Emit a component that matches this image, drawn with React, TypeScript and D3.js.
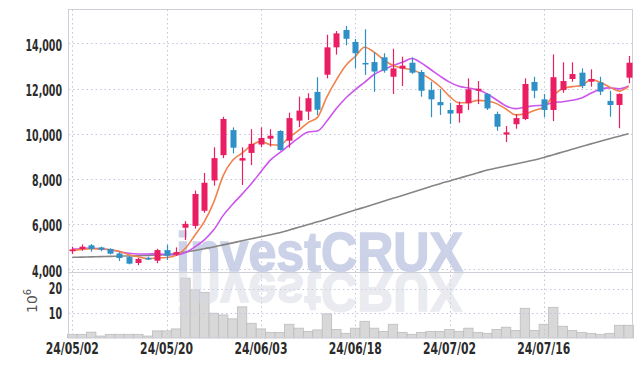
import React from 'react';
import * as d3 from 'd3';

const dates = [
  '24/05/02', '24/05/03', '24/05/07', '24/05/08', '24/05/09', '24/05/10', '24/05/13', '24/05/14', '24/05/16', '24/05/17',
  '24/05/20', '24/05/21', '24/05/22', '24/05/23', '24/05/24', '24/05/27', '24/05/28', '24/05/29', '24/05/30', '24/05/31',
  '24/06/03', '24/06/04', '24/06/05', '24/06/07', '24/06/10', '24/06/11', '24/06/12', '24/06/13', '24/06/14', '24/06/17',
  '24/06/18', '24/06/19', '24/06/20', '24/06/21', '24/06/24', '24/06/25', '24/06/26', '24/06/27', '24/06/28', '24/07/01',
  '24/07/02', '24/07/03', '24/07/04', '24/07/05', '24/07/08', '24/07/09', '24/07/10', '24/07/11', '24/07/12', '24/07/15',
  '24/07/16', '24/07/17', '24/07/18', '24/07/19', '24/07/22', '24/07/23', '24/07/24', '24/07/25', '24/07/26', '24/07/29',
];

const opens = [
  4800, 4900, 5060, 4970, 4900, 4700, 4540, 4280, 4500, 4380,
  4850, 4650, 5840, 5920, 6590, 7930, 9050, 10160, 8810, 9150,
  9520, 9780, 10120, 9690, 10580, 10980, 11850, 12610, 13820, 14590,
  14060, 13130, 13170, 13380, 12520, 12880, 13140, 12730, 11930, 11400,
  11050, 10900, 11345, 11900, 11760, 10870, 9960, 10420, 10650, 12290,
  11520, 11050, 11930, 12420, 12700, 12300, 12270, 11450, 11270, 12480,
];
const highs = [
  5000, 5100, 5120, 5000, 4930, 4760, 4590, 4510, 4560, 4910,
  5080, 4970, 6130, 7480, 8260, 9400, 10750, 10280, 9400, 10200,
  10280, 10200, 10150, 10930, 11640, 11790, 12500, 14380, 14545, 14770,
  14190, 14620, 13600, 13560, 13760, 13410, 13380, 12820, 12300, 11970,
  11370, 11420, 12450, 12330, 11800, 10975, 10340, 10870, 12450, 12520,
  11760, 13510, 13160, 13160, 12890, 12850, 12520, 11900, 11780, 13440,
];
const lows = [
  4680, 4820, 4780, 4800, 4660, 4370, 4220, 4180, 4410, 4270,
  4410, 4590, 5300, 5800, 6500, 7700, 8920, 9130, 7730, 8610,
  9400, 9430, 9250, 9380, 10290, 10610, 10830, 12450, 13500, 13910,
  12900, 12600, 11850, 12700, 11760, 12110, 12650, 11640, 10730, 10830,
  10430, 10490, 11050, 11310, 11050, 10130, 9630, 10220, 10600, 11570,
  10730, 10560, 11810, 12300, 12010, 12080, 11710, 10750, 10240, 12230,
];
const closes = [
  4880, 5000, 4900, 4870, 4690, 4500, 4250, 4460, 4450, 4850,
  4600, 4760, 6010, 7330, 7830, 8920, 10650, 9380, 8920, 9550,
  9810, 9910, 9280, 10690, 11020, 11570, 11060, 13820, 14440, 14200,
  13560, 13100, 12750, 12790, 12890, 13010, 12700, 11900, 11520, 11260,
  10890, 11270, 11965, 11990, 11120, 10310, 10060, 10690, 12200, 11900,
  11050, 12500, 12330, 12640, 12110, 12420, 11860, 11270, 11760, 13140,
];

// millions of shares
const volumes = [
  1.5, 1.5, 2.4, 0.8, 1.5, 1.5, 1.5, 1.5, 0.8, 2.9,
  2.9, 3.7, 24.4, 19.6, 18.6, 10.1, 9.4, 7.8, 12.7, 6.0,
  3.7, 2.3, 2.3, 5.6, 4.0, 2.7, 3.3, 9.8, 3.5, 1.9,
  4.0, 6.8, 4.0, 2.7, 5.6, 2.3, 1.5, 2.3, 2.7, 2.7,
  3.5, 2.7, 4.0, 2.3, 1.9, 3.5, 4.4, 3.1, 12.1, 3.1,
  5.6, 12.5, 4.8, 3.1, 2.3, 1.9, 1.5, 1.9, 5.2, 5.2,
];

const ma5 = [
  4830, 4880, 4910, 4900, 4868, 4792, 4642, 4554, 4470, 4502,
  4522, 4624, 4934, 5510, 6106, 6970, 8148, 8822, 9140, 9484,
  9662, 9514, 9494, 9848, 10142, 10494, 10724, 11632, 12382, 13018,
  13416, 13824, 13610, 13280, 13018, 12908, 12828, 12658, 12404, 12078,
  11654, 11368, 11381, 11475, 11447, 11331, 11089, 10834, 10876, 11032,
  11180, 11668, 11996, 12084, 12126, 12400, 12272, 12060, 11884, 12090,
];
const ma10 = [
  4900, 4912, 4940, 4900, 4868, 4780, 4708, 4680, 4677, 4685,
  4657, 4633, 4744, 4990, 5304, 5746, 6386, 6878, 7325, 7795,
  8316, 8831, 9158, 9494, 9813, 10078, 10119, 10563, 11115, 11580,
  11955, 12274, 12621, 12831, 13018, 13162, 13326, 13134, 12842, 12548,
  12281, 12098, 12020, 11940, 11763, 11493, 11229, 11108, 11176, 11240,
  11256, 11379, 11415, 11480, 11579, 11790, 11970, 12028, 11984, 12108,
];
const ma60 = [
  4530, 4540, 4550, 4560, 4570, 4580, 4590, 4600, 4615, 4630,
  4650, 4700, 4760, 4830, 4910, 4990, 5080, 5170, 5260, 5350,
  5440, 5530, 5620, 5740, 5860, 5980, 6100, 6230, 6360, 6490,
  6620, 6750, 6880, 7010, 7140, 7270, 7400, 7530, 7660, 7790,
  7910, 8030, 8150, 8270, 8390, 8480, 8570, 8660, 8750, 8840,
  8950, 9070, 9190, 9310, 9430, 9550, 9670, 9780, 9890, 10000,
];

const priceTicks = [4000, 6000, 8000, 10000, 12000, 14000];
const volumeTicks = [10, 20];
const dateTicks = ['24/05/02', '24/05/20', '24/06/03', '24/06/18', '24/07/02', '24/07/16'];

const W = 642;
const H = 366;
const left = 68.5;
const right = 632.5;
const top = 9.5;
const split = 272.5;
const bottom = 337.5;

const UP = '#e91e63';
const DOWN = '#2e90c6';
const GRID = '#c4c4dc';
const labelFont = '"DejaVu Sans Condensed", "DejaVu Sans", sans-serif';

// squeeze the labels to the narrow look of the original font
const labelWidth = (s: string) =>
  s.split('').reduce((w, ch) => w + (ch === ',' ? 3.5 : ch === '/' ? 6.7 : 6.6), 0);

export default function App() {
  const idx = d3.range(dates.length);
  const x = d3.scaleLinear().domain([-0.5, 59.5]).range([67.6, 633.4]);
  const y = d3.scaleLinear().domain([3867, 15518]).range([272.3, 9]);
  const yv = d3.scaleLinear().domain([0, 26.9]).range([338, 272]);
  const step = x(1) - x(0);

  const line = (vals: number[]) =>
    d3.line<number>()
      .x((_, i) => x(i))
      .y(d => y(d))
      .curve(d3.curveMonotoneX)(vals) || '';

  const wm = { x: 176, y: 272, w: 287 };

  return (
    <svg width={W} height={H} style={{ position: 'absolute', left: 0, top: 0, background: '#fff' }}>
      <defs>
        <clipPath id="plot">
          <rect x={left} y={top} width={right - left} height={bottom - top} />
        </clipPath>
      </defs>

      {/* volume bars */}
      <g>
        {idx.map(i => (
          <rect key={i} x={x(i) - step / 2} y={yv(volumes[i])} width={step}
            height={yv(0) - yv(volumes[i])} fill="#d8d8d8" stroke="#bdbdbd" strokeWidth={0.8} />
        ))}
      </g>

      {/* grid */}
      <g stroke={GRID} strokeWidth={1} strokeDasharray="1.5,3">
        {priceTicks.map(t => (
          <line key={t} x1={left} x2={right} y1={Math.round(y(t)) + 0.5} y2={Math.round(y(t)) + 0.5} />
        ))}
        {volumeTicks.map(t => (
          <line key={t} x1={left} x2={right} y1={Math.round(yv(t)) + 0.5} y2={Math.round(yv(t)) + 0.5} />
        ))}
        {dateTicks.map(d => {
          const px = Math.round(x(dates.indexOf(d))) + 0.5;
          return <line key={d} x1={px} x2={px} y1={top} y2={bottom} />;
        })}
      </g>

      {/* watermark */}
      <g clipPath="url(#plot)" style={{ fontFamily: '"Liberation Sans", Arial, sans-serif', fontWeight: 'bold', fontSize: 56 }}>
        <text x={wm.x} y={wm.y - 1} textLength={wm.w} lengthAdjust="spacingAndGlyphs"
          fill="#c3cbe4" stroke="#c3cbe4" strokeWidth={1.5} opacity={0.85}>
          investCRUX
        </text>
        <text x={wm.x} y={wm.y - 1} textLength={wm.w} lengthAdjust="spacingAndGlyphs"
          fill="#d6d6e4" stroke="#d6d6e4" strokeWidth={1.5} opacity={0.5}
          transform={`translate(0,${2 * wm.y}) scale(1,-1)`}>
          investCRUX
        </text>
      </g>

      {/* frame */}
      <g fill="none" stroke="#cfcfd8" strokeWidth={1}>
        <rect x={left} y={top} width={right - left} height={bottom - top} />
        <line x1={left} x2={right} y1={split} y2={split} />
      </g>

      {/* moving averages */}
      <g fill="none" strokeWidth={1.6} clipPath="url(#plot)">
        <path d={line(ma60)} stroke="#858585" />
        <path d={line(ma10)} stroke="#cc55ee" />
        <path d={line(ma5)} stroke="#f0834c" />
      </g>

      {/* candles */}
      <g>
        {idx.map(i => {
          const up = closes[i] >= opens[i];
          const c = up ? UP : DOWN;
          const cx = Math.round(x(i)) + 0.5;
          const yt = y(Math.max(opens[i], closes[i]));
          const yb = y(Math.min(opens[i], closes[i]));
          return (
            <g key={i}>
              <line x1={cx} x2={cx} y1={y(highs[i])} y2={y(lows[i])} stroke={c} strokeWidth={1.2} />
              <rect x={cx - 3} y={yt} width={6} height={Math.max(1.5, yb - yt)} fill={c} />
            </g>
          );
        })}
      </g>

      {/* axis labels */}
      <g fill="#2b2b2b" style={{ fontFamily: labelFont, fontWeight: 'bold', fontSize: 15 }}>
        {priceTicks.map(t => {
          const s = d3.format(',')(t);
          return (
            <text key={t} x={62} y={y(t) + 2} dy="0.35em" textAnchor="end"
              textLength={labelWidth(s)} lengthAdjust="spacingAndGlyphs">{s}</text>
          );
        })}
        {volumeTicks.map(t => (
          <text key={t} x={62} y={yv(t)} dy="0.35em" textAnchor="end"
            textLength={labelWidth(String(t))} lengthAdjust="spacingAndGlyphs">{t}</text>
        ))}
        {dateTicks.map(d => (
          <text key={d} x={x(dates.indexOf(d))} y={354} textAnchor="middle"
            textLength={labelWidth(d)} lengthAdjust="spacingAndGlyphs">{d}</text>
        ))}
      </g>
      <text transform="translate(37,313) rotate(-90)" fill="#555"
        style={{ fontFamily: '"DejaVu Sans", sans-serif', fontSize: 14 }}>
        10<tspan dy={-6} fontSize={10}>6</tspan>
      </text>
    </svg>
  );
}
